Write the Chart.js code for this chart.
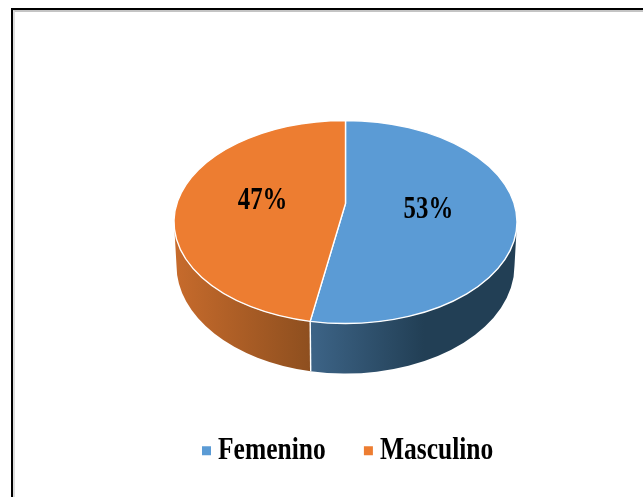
<!DOCTYPE html>
<html>
<head>
<meta charset="utf-8">
<style>
html,body{margin:0;padding:0;background:#fff;overflow:hidden;width:643px;height:497px}
#f1{position:absolute;left:11px;top:8px;right:0;bottom:0;border-left:2.5px solid #000;border-top:2.5px solid #000}
#f2{position:absolute;left:0;top:0;right:0;bottom:0;border-left:2.5px solid #ddd;border-top:2px solid #c4c4c4}
canvas{position:absolute;left:0;top:0;filter:blur(0.4px)}
</style>
<script src="https://cdn.jsdelivr.net/npm/chart.js@4"></script>
</head>
<body>
<div id="f1"><div id="f2"></div></div>
<canvas id="c" width="643" height="497"></canvas>
<script>
const categories = ['Femenino', 'Masculino'];
const values = [53.3, 46.7];
const faceColors = ['#5B9BD5', '#ED7D31'];
const wallStops = [['#3D6487', '#223F55'], ['#C76B2C', '#8E4F1F']];

const tilt = {ratio: 0.592, apexLift: 18.5, lowerRx: 169, lowerDrop: 43.5, lowerRy: 108};
const textStretch = 1.27;

const pie3d = {
  id: 'pie3d',
  beforeDraw(chart) {
    const lg = chart.legend;
    if (lg && !lg._wrapped) {
      lg._wrapped = true;
      const base = lg.draw.bind(lg);
      lg.draw = function () {
        const ctx = chart.ctx;
        const hb = lg.legendHitBoxes[0];
        const my = hb.top + hb.height / 2;
        ctx.save();
        ctx.translate(5, my);
        ctx.scale(1, textStretch);
        ctx.translate(0, -my);
        const ft = ctx.fillText;
        ctx.fillText = function (t, x, ...r) { return ft.call(ctx, t, x - 5.75, ...r); };
        base();
        delete ctx.fillText;
        ctx.restore();
      };
    }
  },
  beforeDatasetDraw(chart, args) {
    const ctx = chart.ctx;
    const arcs = args.meta.data;
    ctx.save();
    // side walls (front half only)
    arcs.forEach((a, i) => {
      const rx = a.outerRadius, ry = rx * tilt.ratio;
      const a0 = Math.max(a.startAngle, 0), a1 = Math.min(a.endAngle, Math.PI);
      if (a1 <= a0) return;
      const x0 = a.x + rx * Math.cos(a0), x1 = a.x + rx * Math.cos(a1);
      const g = ctx.createLinearGradient(Math.min(x0, x1), 0, Math.max(x0, x1), 0);
      if (i === 0) {
        g.addColorStop(0, wallStops[i][0]);
        g.addColorStop(0.55, wallStops[i][1]);
        g.addColorStop(1, wallStops[i][1]);
      } else {
        g.addColorStop(0, wallStops[i][0]);
        g.addColorStop(1, wallStops[i][1]);
      }
      ctx.beginPath();
      ctx.ellipse(a.x, a.y, rx, ry, 0, a0, a1);
      ctx.ellipse(a.x, a.y + tilt.lowerDrop, tilt.lowerRx, tilt.lowerRy, 0, a1, a0, true);
      ctx.closePath();
      ctx.fillStyle = g;
      ctx.fill();
    });
    // wall seam
    const seam = arcs[0].endAngle;
    const s = arcs[0];
    ctx.beginPath();
    ctx.moveTo(s.x + s.outerRadius * Math.cos(seam), s.y + s.outerRadius * tilt.ratio * Math.sin(seam));
    ctx.lineTo(s.x + tilt.lowerRx * Math.cos(seam), s.y + tilt.lowerDrop + tilt.lowerRy * Math.sin(seam));
    ctx.strokeStyle = '#fff';
    ctx.lineWidth = 1.4;
    ctx.stroke();
    // top faces
    arcs.forEach((a, i) => {
      const rx = a.outerRadius, ry = rx * tilt.ratio;
      ctx.beginPath();
      ctx.moveTo(a.x, a.y - tilt.apexLift);
      ctx.ellipse(a.x, a.y, rx, ry, 0, a.startAngle, a.endAngle);
      ctx.closePath();
      ctx.fillStyle = faceColors[i];
      ctx.fill();
      ctx.strokeStyle = '#fff';
      ctx.lineWidth = 1.4;
      ctx.stroke();
    });
    ctx.restore();
    return false;
  },
  afterDatasetsDraw(chart) {
    const ctx = chart.ctx;
    const arcs = chart.getDatasetMeta(0).data;
    const total = values.reduce((p, v) => p + v, 0);
    arcs.forEach((a, i) => {
      const mid = (a.startAngle + a.endAngle) / 2;
      const rx = a.outerRadius, ry = rx * tilt.ratio;
      const x = a.x + 0.486 * rx * Math.cos(mid);
      const y = a.y - tilt.apexLift + 1.75 + 0.4 * ry * Math.sin(mid);
      ctx.save();
      ctx.translate(x, y);
      ctx.scale(1, textStretch);
      ctx.font = 'bold 24.8px "Liberation Serif"';
      ctx.fillStyle = '#000';
      ctx.textAlign = 'center';
      ctx.textBaseline = 'middle';
      ctx.fillText(Math.round(values[i] / total * 100) + '%', 0, 0);
      ctx.restore();
    });
  }
};

new Chart(document.getElementById('c'), {
  type: 'pie',
  data: {
    labels: categories,
    datasets: [{
      data: values,
      backgroundColor: faceColors,
      borderWidth: 0,
      radius: 171.5
    }]
  },
  options: {
    responsive: false,
    animation: false,
    layout: {padding: {left: 48, top: 38.5, right: 0, bottom: 23.5}},
    plugins: {
      tooltip: {enabled: false},
      legend: {
        position: 'bottom',
        labels: {
          boxWidth: 9,
          boxHeight: 7,
          padding: 32.5,
          color: '#000',
          font: {family: '"Liberation Serif"', size: 25.5, weight: 'bold'}
        }
      }
    }
  },
  plugins: [pie3d]
});
</script>
</body>
</html>
